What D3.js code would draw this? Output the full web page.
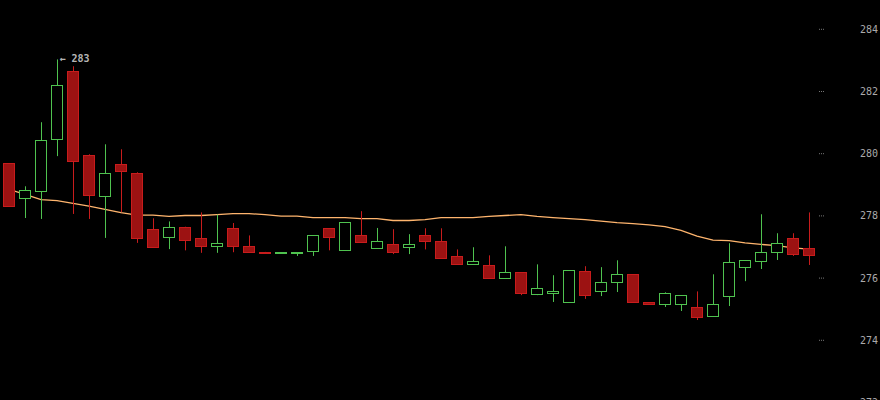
<!DOCTYPE html>
<html>
<head>
<meta charset="utf-8">
<script src="https://cdn.jsdelivr.net/npm/d3@7"></script>
<style>
  html, body { margin: 0; padding: 0; background: #000; }
  svg { display: block; }
  .axis path { display: none; }
  .axis line { stroke: #777; stroke-dasharray: 1,1; }
  .axis text { fill: #aaa; font-family: "DejaVu Sans Mono", monospace; font-size: 10px; }
</style>
</head>
<body>
<div id="chart"></div>
<script>
var width = 880, height = 400;

// candle values
var opens  = [279.66, 278.52, 278.78, 280.44, 282.64, 279.91, 278.61, 279.65, 279.34, 277.56,
              277.29, 277.62, 277.27, 277.00, 277.57, 276.99, 276.81, 276.77, 276.77, 276.81,
              277.57, 276.87, 277.34, 276.94, 277.05, 276.95, 277.34, 277.15, 276.67, 276.42,
              276.38, 275.97, 276.15, 275.46, 275.46, 275.20, 276.19, 275.55, 275.84, 276.09,
              275.19, 275.14, 275.12, 275.03, 274.74, 275.39, 276.32, 276.52, 276.81, 277.27,
              276.92];
var highs  = [279.66, 278.92, 280.98, 283.00, 282.78, 279.95, 280.27, 280.11, 279.37, 277.89,
              277.79, 277.62, 278.08, 278.01, 277.74, 277.34, 276.81, 276.80, 276.80, 277.34,
              277.57, 277.76, 278.12, 277.58, 277.54, 277.38, 277.57, 277.57, 276.89, 276.96,
              276.70, 276.99, 276.15, 276.41, 276.06, 276.22, 276.35, 276.32, 276.54, 276.09,
              275.19, 275.51, 275.41, 275.54, 276.09, 277.09, 276.54, 278.02, 277.41, 277.41,
              278.08];
var lows   = [278.28, 277.90, 277.87, 279.89, 278.03, 277.87, 277.26, 278.09, 277.10, 276.97,
              276.90, 276.86, 276.78, 276.78, 276.80, 276.81, 276.76, 276.77, 276.68, 276.68,
              276.86, 276.84, 277.10, 276.94, 276.74, 276.74, 276.89, 276.61, 276.42, 276.39,
              275.97, 275.97, 275.42, 275.42, 275.20, 275.20, 275.30, 275.39, 275.52, 275.20,
              275.14, 275.04, 274.91, 274.62, 274.72, 275.07, 275.87, 276.26, 276.55, 276.68,
              276.39];
var closes = [278.28, 278.79, 280.42, 282.19, 279.75, 278.61, 279.36, 279.41, 277.26, 276.97,
              277.62, 277.19, 277.00, 277.09, 277.00, 276.81, 276.78, 276.80, 276.80, 277.34,
              277.29, 277.76, 277.10, 277.15, 276.78, 277.05, 277.16, 276.61, 276.42, 276.51,
              275.97, 276.15, 275.46, 275.64, 275.54, 276.22, 275.42, 275.83, 276.09, 275.20,
              275.14, 275.48, 275.41, 274.72, 275.13, 276.48, 276.54, 276.80, 277.11, 276.76,
              276.68];
var movingAvg = [278.82, 278.66, 278.49, 278.46, 278.37, 278.28, 278.18, 278.07, 277.99, 277.99,
                 277.95, 277.98, 277.98, 278.01, 278.04, 278.04, 278.01, 277.96, 277.96, 277.91,
                 277.91, 277.91, 277.88, 277.88, 277.82, 277.82, 277.85, 277.91, 277.91, 277.91,
                 277.95, 277.98, 278.01, 277.95, 277.91, 277.88, 277.85, 277.80, 277.75, 277.72,
                 277.68, 277.62, 277.50, 277.32, 277.19, 277.17, 277.10, 277.05, 277.01, 276.94,
                 276.90];
var yTicks = [272, 274, 276, 278, 280, 282, 284];
var highLabel = "\u2190 283";

var svg = d3.select("#chart").append("svg")
    .attr("width", width)
    .attr("height", height);

svg.append("rect")
    .attr("width", width)
    .attr("height", height)
    .attr("fill", "#000");

var idx = d3.range(opens.length);

var x = d3.scaleBand()
    .domain(idx)
    .range([1, 817])
    .paddingInner(0.25)
    .paddingOuter(0.125);

var y = d3.scaleLinear()
    .domain([272, 284])
    .range([401.5, 28.3]);

var bw = x.bandwidth();
function cx(i) { return Math.round(x(i) + bw / 2) + 0.5; }

// axis on the right
var yAxis = d3.axisRight(y)
    .tickValues(yTicks)
    .tickSize(6)
    .tickFormat(d3.format("d"));

var axisG = svg.append("g")
    .attr("class", "axis")
    .attr("transform", "translate(819,0.5)")
    .call(yAxis);

axisG.selectAll("text")
    .attr("x", 59)
    .attr("dy", "0.35em")
    .style("text-anchor", "end");

// moving average
var line = d3.line()
    .x(function(d, i) { return x(i) + bw / 2; })
    .y(function(d) { return y(d); });

svg.append("path")
    .datum(movingAvg)
    .attr("fill", "none")
    .attr("stroke", "#ffb56e")
    .attr("stroke-width", 1.3)
    .attr("d", line);

// candles
var candles = svg.append("g")
  .selectAll(".candle")
    .data(idx)
  .enter().append("g")
    .attr("class", "candle");

function isUp(i) { return closes[i] >= opens[i]; }
function col(i) { return isUp(i) ? "#4fc24f" : "#c81c1c"; }

candles.append("line")
    .attr("x1", cx)
    .attr("x2", cx)
    .attr("y1", function(i) { return y(highs[i]); })
    .attr("y2", function(i) { return y(lows[i]); })
    .attr("stroke", col)
    .attr("stroke-width", 1);

candles.append("rect")
    .attr("x", function(i) { return Math.round(x(i)) + 0.5; })
    .attr("width", bw - 1)
    .attr("y", function(i) { return Math.round(y(Math.max(opens[i], closes[i]))) + 0.5; })
    .attr("height", function(i) {
      return Math.max(1, Math.round(y(Math.min(opens[i], closes[i])) - y(Math.max(opens[i], closes[i]))));
    })
    .attr("fill", function(i) { return isUp(i) ? "#000" : "#9c1212"; })
    .attr("stroke", col)
    .attr("stroke-width", 1);

// label at the highest high
var hi = d3.maxIndex(highs);
svg.append("text")
    .attr("x", cx(hi) + 2)
    .attr("y", y(highs[hi]))
    .attr("dy", "0.3em")
    .attr("fill", "#b5b5b5")
    .style("font-family", "'DejaVu Sans Mono', monospace")
    .style("font-size", "10px")
    .style("font-weight", "bold")
    .text(highLabel);
</script>
</body>
</html>
